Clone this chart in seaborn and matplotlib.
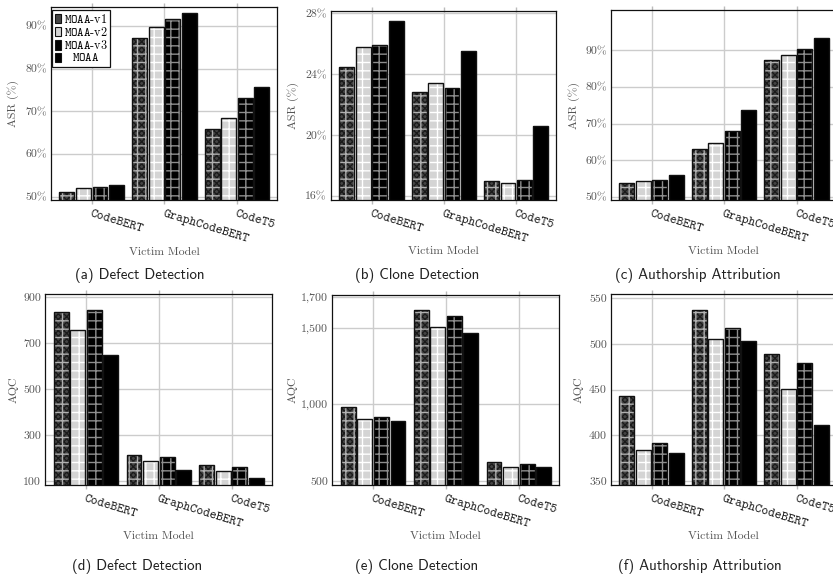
import matplotlib
matplotlib.use("Agg")
import matplotlib.pyplot as plt
import numpy as np
import pandas as pd
import seaborn as sns
from matplotlib.patches import Patch

# ---------------- data ----------------
models = ["CodeBERT", "GraphCodeBERT", "CodeT5"]
variants = ["MOAA-v1", "MOAA-v2", "MOAA-v3", "MOAA"]

defect_asr = {"MOAA-v1": [51.0, 87.3, 65.8], "MOAA-v2": [52.0, 89.8, 68.4],
              "MOAA-v3": [52.2, 91.6, 73.1], "MOAA": [52.7, 93.0, 75.7]}
clone_asr = {"MOAA-v1": [24.5, 22.8, 16.98], "MOAA-v2": [25.76, 23.4, 16.85],
             "MOAA-v3": [25.9, 23.1, 17.05], "MOAA": [27.5, 25.5, 20.6]}
author_asr = {"MOAA-v1": [53.7, 63.0, 87.5], "MOAA-v2": [54.4, 64.7, 88.8],
              "MOAA-v3": [54.6, 68.0, 90.4], "MOAA": [55.9, 73.7, 93.5]}
defect_aqc = {"MOAA-v1": [835, 213, 171], "MOAA-v2": [758, 190, 145],
              "MOAA-v3": [843, 207, 162], "MOAA": [648, 148, 113]}
clone_aqc = {"MOAA-v1": [980, 1615, 626], "MOAA-v2": [904, 1502, 589],
             "MOAA-v3": [917, 1576, 611], "MOAA": [889, 1463, 593]}
author_aqc = {"MOAA-v1": [443, 537, 489], "MOAA-v2": [384, 505.6, 451],
              "MOAA-v3": [392, 517, 479.5], "MOAA": [380.5, 503, 411.5]}

asr_ticks_a = [50, 60, 70, 80, 90]
asr_ticks_b = [16, 20, 24, 28]
asr_ticks_c = [50, 60, 70, 80, 90]
aqc_ticks_d = [100, 300, 500, 700, 900]
aqc_ticks_e = [500, 1000, 1500, 1700]
aqc_ticks_f = [350, 400, 450, 500, 550]

captions = ["(a) Defect Detection", "(b) Clone Detection", "(c) Authorship Attribution",
            "(d) Defect Detection", "(e) Clone Detection", "(f) Authorship Attribution"]

# ---------------- style ----------------
plt.rcParams["font.family"] = ["cmr10", "DejaVu Serif"]
plt.rcParams["mathtext.fontset"] = "cm"
plt.rcParams["axes.unicode_minus"] = False
plt.rcParams["axes.formatter.use_mathtext"] = True
plt.rcParams["hatch.linewidth"] = 1.0

fill_colors = {"MOAA-v1": "#444444", "MOAA-v2": "#d4d4d4", "MOAA-v3": "#000000", "MOAA": "#000000"}
checker_colors = {"MOAA-v1": "#1a1a1a"}
grid_colors = {"MOAA-v1": "#b0b0b0", "MOAA-v2": "#ffffff", "MOAA-v3": "#8e8e8e"}
text_gray = "#555555"
grid_gray = "#cccccc"
BAR_W = 0.91
BAR_GAP = 0.1


def pct(v):
    return f"{v}%"


def thousands(v):
    return f"{v:,}"


panels = [
    dict(data=defect_asr, ylabel="ASR (%)", ylim=(49.2, 94.4), ticks=asr_ticks_a, fmt=pct,
         pos=[51, 7.3, 277, 200], ylab_x=-0.143, cap=(140, 275)),
    dict(data=clone_asr, ylabel="ASR (%)", ylim=(15.74, 28.17), ticks=asr_ticks_b, fmt=pct,
         pos=[331, 10.7, 556, 200], ylab_x=-0.142, cap=(417, 275)),
    dict(data=author_asr, ylabel="ASR (%)", ylim=(49.1, 101.0), ticks=asr_ticks_c, fmt=pct,
         pos=[611, 10.0, 836.5, 200.3], ylab_x=-0.138, cap=(698, 275)),
    dict(data=defect_aqc, ylabel="AQC", ylim=(84, 913), ticks=aqc_ticks_d, fmt=str,
         pos=[45.3, 294.3, 271.7, 485], ylab_x=-0.117, cap=(137, 566.7)),
    dict(data=clone_aqc, ylabel="AQC", ylim=(474, 1715), ticks=aqc_ticks_e, fmt=thousands,
         pos=[332.3, 294.7, 559, 485], ylab_x=-0.153, cap=(417, 566.7)),
    dict(data=author_aqc, ylabel="AQC", ylim=(346, 554), ticks=aqc_ticks_f, fmt=str,
         pos=[611, 294.3, 836.5, 485], ylab_x=-0.12, cap=(700, 566.7)),
]

W, H = 833, 579
fig = plt.figure(figsize=(W / 100, H / 100), dpi=100)


def to_df(d):
    rows = []
    for v in variants:
        for m, val in zip(models, d[v]):
            rows.append({"model": m, "variant": v, "value": val})
    return pd.DataFrame(rows)


def bar_layer(ax, df, palette, fill, **kw):
    n0 = len(ax.patches)
    sns.barplot(data=df, x="model", y="value", hue="variant", order=models,
                hue_order=variants, palette=palette, fill=fill, width=BAR_W, gap=BAR_GAP,
                dodge=True, errorbar=None, legend=False, ax=ax, **kw)
    return ax.patches[n0:]


for i, p in enumerate(panels):
    l, t, r, b = p["pos"]
    ax = fig.add_axes([l / W, 1 - b / H, (r - l) / W, (b - t) / H])
    df = to_df(p["data"])

    # filled bars
    bar_layer(ax, df, fill_colors, True, linewidth=0, edgecolor="none")
    # checker texture for MOAA-v1
    sub = df[df["variant"] == "MOAA-v1"]
    pal = {v: checker_colors.get(v, "#000000") for v in variants}
    for patch in bar_layer(ax, sub, pal, False, linewidth=0):
        patch.set_hatch("xxxxxx")
        if hasattr(patch, "set_hatch_linewidth"):
            patch.set_hatch_linewidth(0.9)
    # grid hatch for v1..v3
    for v, col in grid_colors.items():
        sub = df[df["variant"] == v]
        pal = {vv: col for vv in variants}
        for patch in bar_layer(ax, sub, pal, False, linewidth=0):
            patch.set_hatch("++")
            if hasattr(patch, "set_hatch_linewidth"):
                patch.set_hatch_linewidth(1.0)
    # outlines
    bar_layer(ax, df, {v: "#111111" for v in variants}, False, linewidth=1.0)

    ax.set_xlim(-0.56, 2.55)
    ax.set_ylim(*p["ylim"])
    ax.set_yticks(p["ticks"])
    ax.set_yticklabels([p["fmt"](v) for v in p["ticks"]], fontsize=8.5, color=text_gray)
    ax.set_xticks(range(len(models)))
    ax.set_xticklabels(models, fontfamily="cmtt10", fontsize=9.4, color="#222222",
                       rotation=-17, ha="left", va="top", rotation_mode="anchor")
    ax.tick_params(axis="x", top=True, bottom=True, direction="out", length=3,
                   color="#bbbbbb", width=1, pad=3)
    ax.tick_params(axis="y", length=0, pad=3)
    ax.set_axisbelow(True)
    ax.grid(True, color=grid_gray, linewidth=1.0)
    for s in ax.spines.values():
        s.set_color("#111111")
        s.set_linewidth(0.9)
    ax.set_ylabel(p["ylabel"], fontsize=8.5, color=text_gray)
    ax.yaxis.set_label_coords(p["ylab_x"], 0.5)
    ax.set_xlabel("Victim Model", fontsize=8.5, color=text_gray)
    ax.xaxis.set_label_coords(0.5, -0.245)

    fig.text(p["cap"][0] / W, 1 - p["cap"][1] / H, captions[i], fontfamily="cmss10",
             fontsize=10.8, color="#222222", ha="center", va="center")

    if i == 0:
        handles = [Patch(facecolor=fill_colors[v], edgecolor="#111111", linewidth=0.8)
                   for v in variants]
        labels = [r"$\mathtt{MOAA}$-v1", r"$\mathtt{MOAA}$-v2", r"$\mathtt{MOAA}$-v3",
                  r"  $\mathtt{MOAA}$"]
        leg = ax.legend(handles, labels,
                        loc="upper left", bbox_to_anchor=(0.005, 0.985), fontsize=8.8,
                        frameon=True, fancybox=False, framealpha=1, edgecolor="#111111",
                        handlelength=0.5, handleheight=0.8, handletextpad=0.25,
                        labelspacing=0.02, borderpad=0.2, borderaxespad=0.0)
        leg.get_frame().set_linewidth(0.9)

fig.savefig("out.png", dpi=100)
